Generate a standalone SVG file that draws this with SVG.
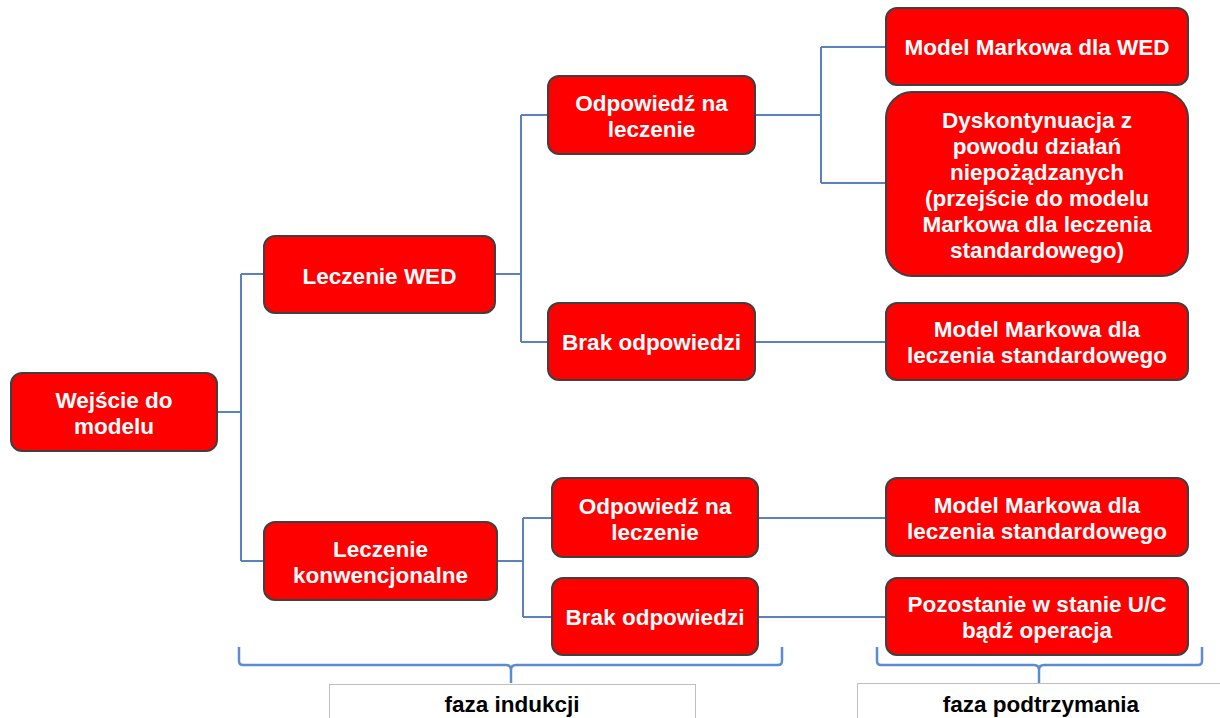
<svg xmlns="http://www.w3.org/2000/svg" width="1220" height="718" viewBox="0 0 1220 718">
<style>
.box{fill:#ff0000;stroke:#404040;stroke-width:2}
.t{font-family:"Liberation Sans",Arial,sans-serif;font-weight:bold;font-size:22.5px;fill:#ffffff;text-anchor:middle}
.c{fill:none;stroke:#5a82c0;stroke-width:2}
.br{fill:none;stroke:#5b8bd0;stroke-width:2.5;stroke-linejoin:round}
.lbl{fill:#ffffff;stroke:#bfbfbf;stroke-width:1}
.lt{font-family:"Liberation Sans",Arial,sans-serif;font-weight:bold;font-size:22.5px;fill:#000000;text-anchor:middle}
</style>
<rect width="1220" height="718" fill="#ffffff"/>
<g id="connectors">
<path class="c" d="M217,412 H241 M241,274 V561 M241,274 H264 M241,561 H264"/>
<path class="c" d="M495,274 H521 M521,115 V342 M521,115 H548 M521,342 H548"/>
<path class="c" d="M755,115 H821 M821,47 V183 M821,47 H886 M821,183 H886"/>
<path class="c" d="M755,342 H886"/>
<path class="c" d="M497,561 H523 M523,518 V617 M523,518 H552 M523,617 H552"/>
<path class="c" d="M758,518 H886"/>
<path class="c" d="M758,617 H886"/>
</g>
<g id="n1"><rect class="box" x="11" y="373" width="206" height="78" rx="11"/><text class="t" x="114" y="408">Wejście do</text><text class="t" x="114" y="434">modelu</text></g>
<g id="n2"><rect class="box" x="264" y="236" width="231" height="77" rx="11"/><text class="t" x="379.5" y="284">Leczenie WED</text></g>
<g id="n3"><rect class="box" x="264" y="522" width="233" height="78" rx="11"/><text class="t" x="380.5" y="557">Leczenie</text><text class="t" x="380.5" y="583">konwencjonalne</text></g>
<g id="n4"><rect class="box" x="548" y="76" width="207" height="78" rx="11"/><text class="t" x="651.5" y="111">Odpowiedź na</text><text class="t" x="651.5" y="137">leczenie</text></g>
<g id="n5"><rect class="box" x="548" y="303" width="207" height="77" rx="11"/><text class="t" x="651.5" y="350">Brak odpowiedzi</text></g>
<g id="n6"><rect class="box" x="552" y="478" width="206" height="79" rx="11"/><text class="t" x="655" y="514">Odpowiedź na</text><text class="t" x="655" y="540">leczenie</text></g>
<g id="n7"><rect class="box" x="552" y="578" width="206" height="77" rx="11"/><text class="t" x="655" y="625">Brak odpowiedzi</text></g>
<g id="n8"><rect class="box" x="886" y="8" width="302" height="77" rx="11"/><text class="t" x="1037" y="55">Model Markowa dla WED</text></g>
<g id="n9"><rect class="box" x="886" y="92" width="302" height="184" rx="26"/>
<text class="t" x="1037" y="128">Dyskontynuacja z</text>
<text class="t" x="1037" y="154">powodu działań</text>
<text class="t" x="1037" y="180">niepożądzanych</text>
<text class="t" x="1037" y="206">(przejście do modelu</text>
<text class="t" x="1037" y="232">Markowa dla leczenia</text>
<text class="t" x="1037" y="258">standardowego)</text></g>
<g id="n10"><rect class="box" x="886" y="303" width="302" height="77" rx="11"/><text class="t" x="1037" y="337">Model Markowa dla</text><text class="t" x="1037" y="363">leczenia standardowego</text></g>
<g id="n11"><rect class="box" x="886" y="478" width="302" height="78" rx="11"/><text class="t" x="1037" y="513">Model Markowa dla</text><text class="t" x="1037" y="539">leczenia standardowego</text></g>
<g id="n12"><rect class="box" x="886" y="578" width="302" height="77" rx="11"/><text class="t" x="1037" y="612">Pozostanie w stanie U/C</text><text class="t" x="1037" y="638">bądź operacja</text></g>
<g id="phase-induction">
<path class="br" d="M239,647 V661 Q239,665 243,665 H506 Q511,665 511,670 V683 M511,670 Q511,665 516,665 H778 Q782,665 782,661 V647"/>
<rect class="lbl" x="329.5" y="684.5" width="366" height="40"/>
<text class="lt" x="512" y="712">faza indukcji</text>
</g>
<g id="phase-maintenance">
<path class="br" d="M877,647 V661 Q877,665 881,665 H1034 Q1039,665 1039,670 V683 M1039,670 Q1039,665 1044,665 H1198 Q1202,665 1202,661 V647"/>
<rect class="lbl" x="857.5" y="683.5" width="370" height="40"/>
<text class="lt" x="1041" y="712">faza podtrzymania</text>
</g>
</svg>
